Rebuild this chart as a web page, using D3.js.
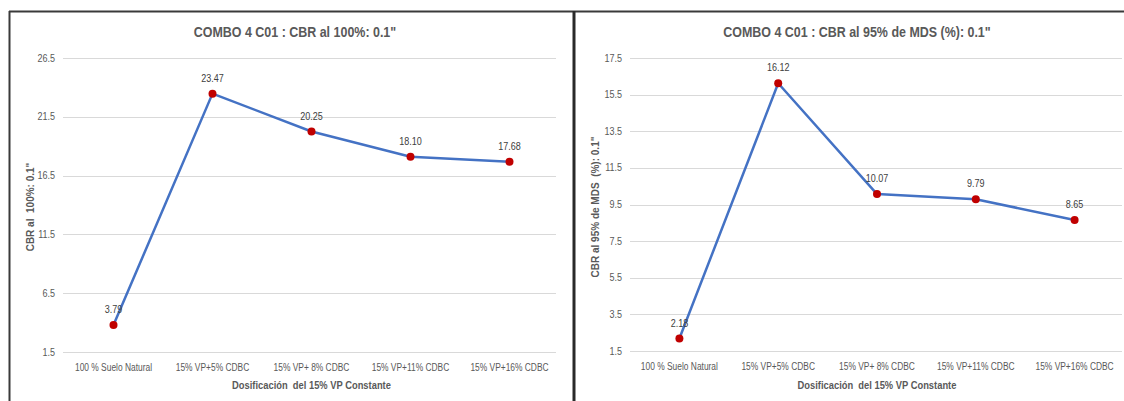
<!DOCTYPE html>
<html><head><meta charset="utf-8">
<script src="https://cdn.jsdelivr.net/npm/d3@7"></script>
<style>
html,body{margin:0;padding:0;background:#fff;}
svg{display:block;}
text{font-family:"Liberation Sans Narrow","Liberation Sans",Arial,sans-serif;white-space:pre;}
</style></head>
<body>
<svg id="c" width="1124" height="401"></svg>
<script>
const categories = ["100 % Suelo Natural","15% VP+5% CDBC","15% VP+ 8% CDBC","15% VP+11% CDBC","15% VP+16% CDBC"];
const valuesA = [3.79, 23.47, 20.25, 18.10, 17.68];
const valuesB = [2.18, 16.12, 10.07, 9.79, 8.65];
const ticksA = [1.5, 6.5, 11.5, 16.5, 21.5, 26.5];
const ticksB = [1.5, 3.5, 5.5, 7.5, 9.5, 11.5, 13.5, 15.5, 17.5];
const titleA = 'COMBO 4 C01 : CBR al 100%: 0.1"';
const titleB = 'COMBO 4 C01 : CBR al 95% de MDS (%): 0.1"';
const yTitleA = 'CBR al  100%: 0.1"';
const yTitleB = 'CBR al 95% de MDS  (%): 0.1"';
const xTitle = 'Dosificación  del 15% VP Constante';

const svg = d3.select("#c");

function condense(sel, f){
  sel.each(function(){
    const len = this.getComputedTextLength();
    d3.select(this).attr("textLength", len*f).attr("lengthAdjust","spacingAndGlyphs");
  });
}

svg.append("line").attr("x1",9.5).attr("x2",9.5).attr("y1",11).attr("y2",401).attr("stroke","#3a3a3a").attr("stroke-width",2);
svg.append("line").attr("x1",9).attr("x2",1124).attr("y1",11.5).attr("y2",11.5).attr("stroke","#3a3a3a").attr("stroke-width",2);
svg.append("line").attr("x1",574).attr("x2",574).attr("y1",11).attr("y2",401).attr("stroke","#2a2a2a").attr("stroke-width",3);

function drawChart(cfg){
  const g = svg.append("g");
  const x = d3.scalePoint().domain(categories).range(cfg.xr).padding(0.5);
  const y = d3.scaleLinear().domain(d3.extent(cfg.ticks)).range(cfg.yr);

  g.selectAll(".grid").data(cfg.ticks).join("line")
    .attr("x1",cfg.gx[0]).attr("x2",cfg.gx[1])
    .attr("y1",d=>Math.round(y(d))+0.5).attr("y2",d=>Math.round(y(d))+0.5)
    .attr("stroke","#d9d9d9").attr("stroke-width",1);

  g.selectAll(".yt").data(cfg.ticks).join("text")
    .attr("x",cfg.gx[0]-8).attr("y",d=>y(d)).attr("dy","0.35em")
    .attr("text-anchor","end").attr("font-size",10).attr("fill","#595959")
    .text(d=>d3.format(".1f")(d))
    .call(condense, 0.9);

  g.selectAll(".xt").data(categories).join("text")
    .attr("x",d=>x(d)).attr("y",cfg.yr[0]+19)
    .attr("text-anchor","middle").attr("font-size",10).attr("fill","#595959")
    .text(d=>d)
    .call(condense, 0.84);

  g.append("text").attr("x",cfg.titleX).attr("y",37).attr("text-anchor","middle")
    .attr("font-size",15).attr("font-weight","bold").attr("fill","#595959").text(cfg.title)
    .call(condense, 0.83);
  g.append("text").attr("x",(cfg.xr[0]+cfg.xr[1])/2).attr("y",389).attr("text-anchor","middle")
    .attr("font-size",11).attr("font-weight","bold").attr("fill","#595959").text(xTitle)
    .call(condense, 0.85);
  g.append("text").attr("transform",`translate(${cfg.yTitleX},${cfg.yTitleY}) rotate(-90)`)
    .attr("text-anchor","middle").attr("font-size",10).attr("font-weight","bold").attr("fill","#595959")
    .text(cfg.yTitle);

  const line = d3.line().x((d,i)=>x(categories[i])).y(d=>y(d));
  g.append("path").datum(cfg.values).attr("d",line).attr("fill","none")
    .attr("stroke","#4472C4").attr("stroke-width",2.5).attr("stroke-linejoin","round");

  g.selectAll(".pt").data(cfg.values).join("circle")
    .attr("cx",(d,i)=>x(categories[i])).attr("cy",d=>y(d)).attr("r",4)
    .attr("fill","#C00000");

  g.selectAll(".dl").data(cfg.values).join("text")
    .attr("x",(d,i)=>x(categories[i])).attr("y",d=>y(d)-12)
    .attr("text-anchor","middle").attr("font-size",10).attr("fill","#404040")
    .text(d=>d3.format(".2f")(d))
    .call(condense, 0.9);
}

drawChart({values:valuesA, ticks:ticksA, xr:[64,559], yr:[352,58], gx:[63,556],
  title:titleA, yTitle:yTitleA, titleX:295, yTitleX:34, yTitleY:207});
drawChart({values:valuesB, ticks:ticksB, xr:[630,1124], yr:[351,58], gx:[630,1122],
  title:titleB, yTitle:yTitleB, titleX:857, yTitleX:599, yTitleY:207});
</script>
</body></html>
